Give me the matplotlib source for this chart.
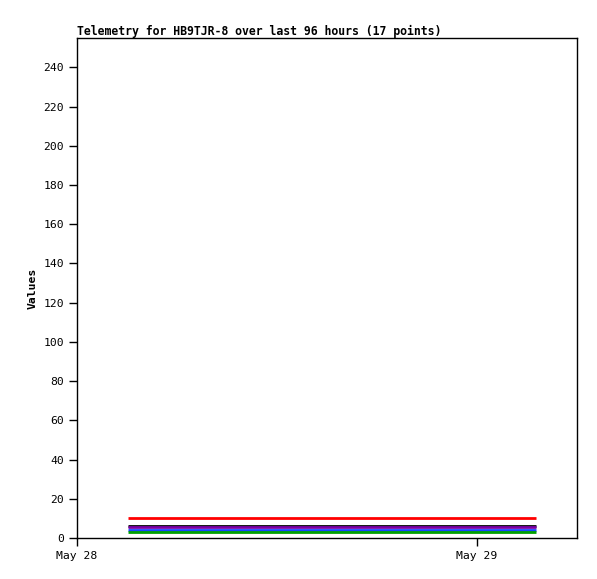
import matplotlib
matplotlib.use("Agg")
import matplotlib.pyplot as plt
import matplotlib.dates as mdates
from datetime import datetime

# timestamps of the 17 telemetry points
times = ["2024-05-28 03:04", "2024-05-28 04:44", "2024-05-28 06:20", "2024-05-28 08:02",
         "2024-05-28 09:40", "2024-05-28 11:18", "2024-05-28 12:58", "2024-05-28 14:36",
         "2024-05-28 16:14", "2024-05-28 17:52", "2024-05-28 19:30", "2024-05-28 21:10",
         "2024-05-28 22:48", "2024-05-29 00:26", "2024-05-29 02:04", "2024-05-29 02:50",
         "2024-05-29 03:32"]

red_vals    = [10] * 17
black_vals  = [6] * 17
purple_vals = [5.4] * 17
blue_vals   = [4.3] * 17
green_vals  = [3.1] * 17

series = [
    (red_vals, "#ff0000"),
    (black_vals, "#000000"),
    (purple_vals, "#7a00a8"),
    (blue_vals, "#1444ff"),
    (green_vals, "#00a000"),
]

def main():
    plt.rcParams["font.family"] = "DejaVu Sans Mono"
    x = [datetime.strptime(t, "%Y-%m-%d %H:%M") for t in times]

    fig = plt.figure(figsize=(5.97, 5.79), dpi=100)
    ax = fig.add_axes([77 / 597, 41 / 579, 500 / 597, 500 / 579])

    for vals, col in series:
        ax.plot(x, vals, color=col, linewidth=2, solid_capstyle="butt")

    ax.set_ylim(0, 255)
    ax.set_yticks(range(0, 241, 20))
    ax.set_xlim(datetime(2024, 5, 28), datetime(2024, 5, 29, 6, 0))
    ax.set_xticks([datetime(2024, 5, 28), datetime(2024, 5, 29)])
    ax.xaxis.set_major_formatter(mdates.DateFormatter("%b %d"))
    ax.tick_params(labelsize=8.2, length=6, width=1, direction="out")
    for sp in ax.spines.values():
        sp.set_linewidth(1)

    ax.set_ylabel("Values", fontsize=8.2, fontweight="bold")
    ax.set_title("Telemetry for HB9TJR-8 over last 96 hours (17 points)",
                 fontsize=8.3, fontweight="bold", loc="left", pad=2)

    fig.savefig("out.png", dpi=100)

if __name__ == "__main__":
    main()
